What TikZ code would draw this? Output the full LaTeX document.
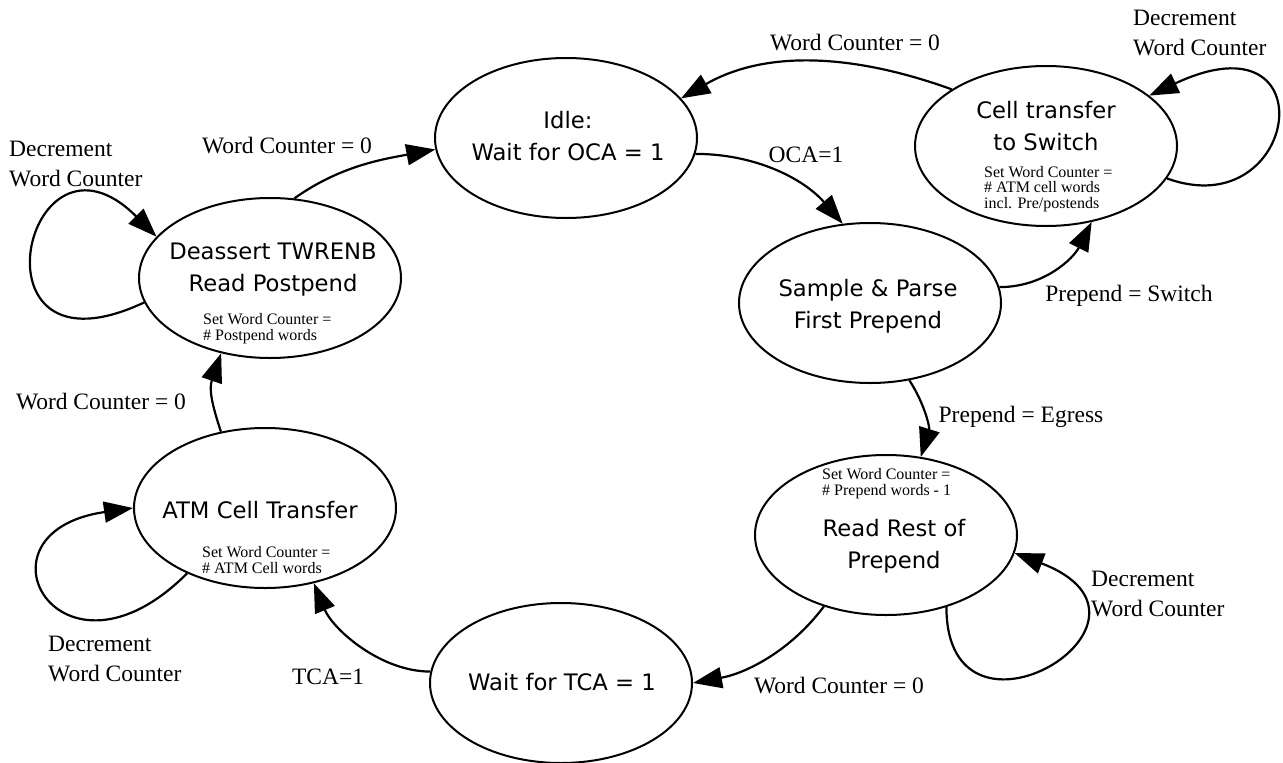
\documentclass[tikz,border=0pt]{standalone}
\usepackage{fontspec}
\setmainfont{Liberation Serif}
\newfontfamily\statefont{DejaVu Sans}
\usetikzlibrary{shapes.geometric,arrows.meta}
\begin{document}
\begin{tikzpicture}[x=1pt,y=-1pt,
  state/.style={ellipse,draw,line width=2pt,minimum width=262pt,minimum height=160pt,inner sep=0pt},
  stxt/.style={font=\statefont\fontsize{22.7}{32}\selectfont,align=center,inner sep=0pt},
  small/.style={font=\fontsize{16}{15.8}\selectfont,align=left,anchor=west,inner sep=0pt},
  lbl/.style={font=\fontsize{23.5}{30}\selectfont,inner sep=0pt},
  lbltwo/.style={lbl,align=left,anchor=west},
  edge/.style={line width=2.2pt,-{Triangle[length=29pt,width=21pt]}}]
\path[use as bounding box,fill=white] (0,0) rectangle (1283,763);

% states
\node[state] (idle) at (566,138) {};
\node[state] (cell) at (1046,146) {};
\node[state] (sample) at (870,303) {};
\node[state] (rest) at (886,535) {};
\node[state] (wait) at (561,683) {};
\node[state] (atm) at (265,508) {};
\node[state] (deassert) at (270,278) {};

% state texts
\node[stxt] (idleT) at (568,136) {Idle:\\Wait for OCA = 1};
\node[stxt] (cellT) at (1046,126) {Cell transfer\\ to Switch};
\node[small] (cellS) at (984,189) {Set Word Counter =\\\# ATM cell words\\incl. Pre/postends};
\node[stxt] (sampleT) at (868,306) {Sample \& Parse\\First Prepend};
\node[small] (restS) at (822,484) {Set Word Counter =\\\# Prepend words - 1};
\node[stxt] (restT) at (894,546) {Read Rest of\\Prepend};
\node[stxt] (waitT) at (562,682) {Wait for TCA = 1};
\node[stxt] (atmT) at (260,510) {ATM Cell Transfer};
\node[small] (atmS) at (202,560) {Set Word Counter =\\\# ATM Cell words};
\node[stxt] (deassertT) at (273,270) {Deassert TWRENB\\Read Postpend};
\node[small] (deassertS) at (203,329) {Set Word Counter =\\\# Postpend words};

% transitions
\draw[edge] (deassert.73) .. controls +(45,-32) and +(-54,10) .. (idle.185);
\draw[edge] (idle.353) .. controls +(60,0) and +(-39,-45) .. (sample.109);
\draw[edge] (sample.7) .. controls +(45,0) and +(-18,36) .. (cell.-59);
\draw[edge] (cell.149) .. controls +(-94,-34) and +(87,-50) .. (idle.19);
\draw[edge] (sample.-63) .. controls +(16,25) and +(9,-29) .. (rest.66);
\draw[edge] (rest.229) .. controls +(-33,44) and +(54,-10) .. (wait.0);
\draw[edge] (wait.175) .. controls +(-50,0) and +(19,46) .. (atm.-57);
\draw[edge] (atm.120) .. controls +(-10,-30) and +(-12,35) .. (deassert.237);

% self loops
\draw[edge] (deassert.191) .. controls +(-181,85) and +(-131,-131) .. (deassert.160);
\draw[edge] (cell.345) .. controls +(132,48) and +(181,-85) .. (cell.26);
\draw[edge] (rest.310) .. controls +(0,160) and +(175,67) .. (rest.352);
\draw[edge] (atm.220) .. controls +(-127,127) and +(-168,24) .. (atm.180);

% labels
\node[lbl] (l1) at (287,146) {Word Counter = 0};
\node[lbl] (l2) at (806,155) {OCA=1};
\node[lbl] (l3) at (855,43) {Word Counter = 0};
\node[lbltwo] (l4) at (1133,33) {Decrement\\Word Counter};
\node[lbl] (l5) at (1129,296) {Prepend = Switch};
\node[lbl] (l6) at (1021,417) {Prepend = Egress};
\node[lbltwo] (l7) at (1091,594) {Decrement\\Word Counter};
\node[lbl] (l8) at (839,686) {Word Counter = 0};
\node[lbl] (l9) at (328,677) {TCA=1};
\node[lbltwo] (l10) at (48,659) {Decrement\\Word Counter};
\node[lbl] (l11) at (101,402) {Word Counter = 0};
\node[lbltwo] (l12) at (9,164) {Decrement\\Word Counter};
\end{tikzpicture}
\end{document}
